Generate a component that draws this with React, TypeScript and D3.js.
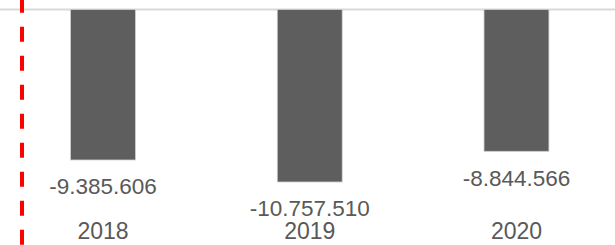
import React from "react";
import * as d3 from "d3";

const categories = ["2018", "2019", "2020"];
const values = [-9385606, -10757510, -8844566];
const labels = ["-9.385.606", "-10.757.510", "-8.844.566"];

const W = 615;
const H = 245;

export default function App() {
  const x = d3
    .scaleBand<string>()
    .domain(categories)
    .range([-0.4, 619.85])
    .paddingInner(0.686)
    .paddingOuter(0.343);
  const y = d3.scaleLinear().domain([0, -12000000]).range([9.5, 9.5 + 12 * 16.035]);
  const font = "'Liberation Sans', Arial, sans-serif";
  return (
    <svg
      width={W}
      height={H}
      style={{ position: "absolute", left: 0, top: 0, background: "#fff" }}
      fontFamily={font}
    >
      <line x1={0} x2={W} y1={y(0)} y2={y(0)} stroke="#d9d9d9" strokeWidth={2} />
      {categories.map((c, i) => {
        const x0 = x(c)!;
        const bw = x.bandwidth();
        const yb = y(values[i]);
        return (
          <g key={c}>
            <rect
              x={x0}
              y={y(0)}
              width={bw}
              height={yb - y(0)}
              fill="#5e5e5e"
              stroke="#cfcfcf"
              strokeWidth={0.8}
            />
            <text
              x={x0 + bw / 2}
              y={yb + 34.5}
              textAnchor="middle"
              fontSize={22.5}
              fill="#595959"
            >
              {labels[i]}
            </text>
            <text
              x={x0 + bw / 2}
              y={239.3}
              textAnchor="middle"
              fontSize={23}
              fill="#595959"
            >
              {c}
            </text>
          </g>
        );
      })}
      <line
        x1={22}
        x2={22}
        y1={0}
        y2={H}
        stroke="#ff0000"
        strokeWidth={4}
        strokeDasharray="15 14"
        strokeDashoffset={2.3}
      />
    </svg>
  );
}
